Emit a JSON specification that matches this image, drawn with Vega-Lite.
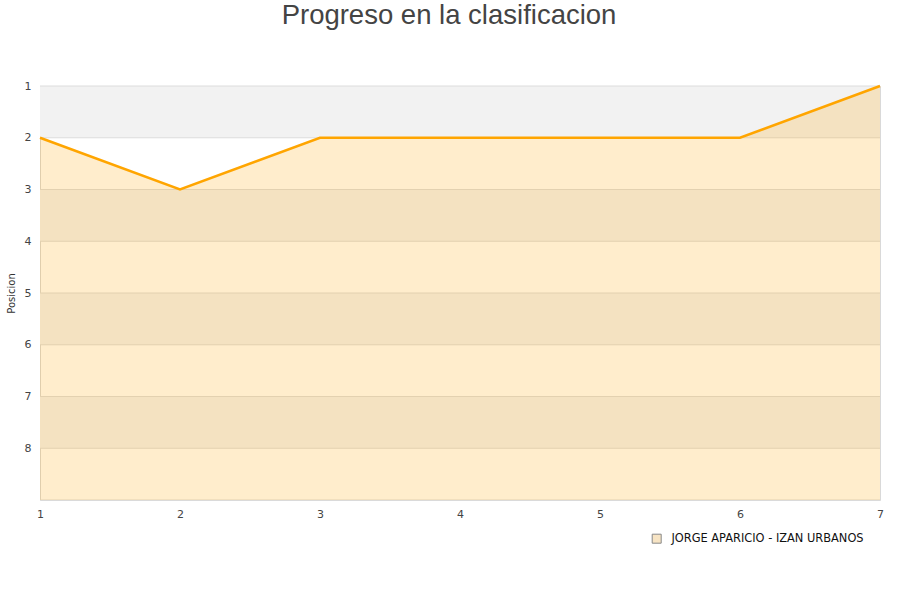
{
  "$schema": "https://vega.github.io/schema/vega-lite/v6.json",
  "width": 840,
  "height": 414,
  "autosize": {"type": "none"},
  "padding": {"left": 40, "top": 86, "right": 20, "bottom": 100},
  "background": "white",
  "title": {
    "text": "Progreso en la clasificacion",
    "font": "Liberation Sans",
    "fontSize": 27.5,
    "fontWeight": "normal",
    "color": "#444444",
    "anchor": "middle",
    "offset": 50.5,
    "dx": -11
  },
  "config": {
    "view": {"stroke": "#d9d9d9", "strokeWidth": 1},
    "axis": {
      "labelFont": "DejaVu Sans",
      "labelFontSize": 11,
      "labelColor": "#444444",
      "labelFlush": false,
      "ticks": false,
      "domain": false,
      "grid": false,
      "titleFont": "DejaVu Sans",
      "titleFontSize": 10,
      "titleFontWeight": "normal",
      "titleColor": "#333333"
    }
  },
  "datasets": {
    "bands": [
      {"y1": 1, "y2": 2},
      {"y1": 3, "y2": 4},
      {"y1": 5, "y2": 6},
      {"y1": 7, "y2": 8}
    ],
    "grid": [
      {"y": 1}, {"y": 2}, {"y": 3}, {"y": 4}, {"y": 5},
      {"y": 6}, {"y": 7}, {"y": 8}, {"y": 9}
    ],
    "pos": [
      {"jornada": 1, "posicion": 2, "serie": "JORGE APARICIO - IZAN URBANOS"},
      {"jornada": 2, "posicion": 3, "serie": "JORGE APARICIO - IZAN URBANOS"},
      {"jornada": 3, "posicion": 2, "serie": "JORGE APARICIO - IZAN URBANOS"},
      {"jornada": 4, "posicion": 2, "serie": "JORGE APARICIO - IZAN URBANOS"},
      {"jornada": 5, "posicion": 2, "serie": "JORGE APARICIO - IZAN URBANOS"},
      {"jornada": 6, "posicion": 2, "serie": "JORGE APARICIO - IZAN URBANOS"},
      {"jornada": 7, "posicion": 1, "serie": "JORGE APARICIO - IZAN URBANOS"}
    ]
  },
  "layer": [
    {
      "data": {"name": "bands"},
      "mark": {"type": "rect", "fill": "#f2f2f2"},
      "encoding": {
        "y": {
          "field": "y1", "type": "quantitative", "title": "Posicion",
          "scale": {"domain": [1, 9], "reverse": true, "nice": false, "zero": false},
          "axis": {"values": [1, 2, 3, 4, 5, 6, 7, 8], "title": "Posicion", "format": "d", "labelPadding": 9, "titlePadding": 8}
        },
        "y2": {"field": "y2"}
      }
    },
    {
      "data": {"name": "grid"},
      "mark": {"type": "rule", "stroke": "#dcdcdc", "strokeWidth": 1},
      "encoding": {
        "y": {
          "field": "y", "type": "quantitative", "title": "Posicion",
          "scale": {"domain": [1, 9], "reverse": true, "nice": false, "zero": false},
          "axis": {"values": [1, 2, 3, 4, 5, 6, 7, 8], "title": "Posicion", "format": "d", "labelPadding": 9, "titlePadding": 8}
        }
      }
    },
    {
      "data": {"name": "pos"},
      "mark": {"type": "area", "fill": "#ffa500", "fillOpacity": 0.2},
      "encoding": {
        "x": {
          "field": "jornada", "type": "quantitative",
          "scale": {"domain": [1, 7], "nice": false, "zero": false},
          "axis": {"values": [1, 2, 3, 4, 5, 6, 7], "format": "d", "title": null, "labelPadding": 8}
        },
        "y": {
          "field": "posicion", "type": "quantitative", "title": "Posicion",
          "scale": {"domain": [1, 9], "reverse": true, "nice": false, "zero": false},
          "axis": {"values": [1, 2, 3, 4, 5, 6, 7, 8], "title": "Posicion", "format": "d", "labelPadding": 9, "titlePadding": 8}
        },
        "y2": {"datum": 9}
      }
    },
    {
      "data": {"name": "pos"},
      "mark": {"type": "line", "stroke": "#ffa500", "strokeWidth": 2.5},
      "encoding": {
        "x": {
          "field": "jornada", "type": "quantitative",
          "scale": {"domain": [1, 7], "nice": false, "zero": false},
          "axis": {"values": [1, 2, 3, 4, 5, 6, 7], "format": "d", "title": null, "labelPadding": 8}
        },
        "y": {
          "field": "posicion", "type": "quantitative", "title": "Posicion",
          "scale": {"domain": [1, 9], "reverse": true, "nice": false, "zero": false},
          "axis": {"values": [1, 2, 3, 4, 5, 6, 7, 8], "title": "Posicion", "format": "d", "labelPadding": 9, "titlePadding": 8}
        }
      }
    },
    {
      "data": {"name": "pos"},
      "mark": {"type": "point", "shape": "square", "filled": true, "opacity": 0},
      "encoding": {
        "x": {"field": "jornada", "type": "quantitative"},
        "y": {"field": "posicion", "type": "quantitative", "title": "Posicion"},
        "fill": {
          "field": "serie", "type": "nominal",
          "scale": {"range": ["#f7e4c4"]},
          "legend": {
            "title": null,
            "orient": "none",
            "legendX": 611,
            "legendY": 447,
            "padding": 0,
            "symbolType": "square",
            "symbolSize": 81,
            "symbolOpacity": 1,
            "symbolStrokeColor": "#888888",
            "symbolStrokeWidth": 1,
            "labelFont": "DejaVu Sans",
            "labelFontSize": 11.4,
            "labelColor": "#111111",
            "labelOffset": 9,
            "labelLimit": 400
          }
        }
      }
    }
  ]
}
